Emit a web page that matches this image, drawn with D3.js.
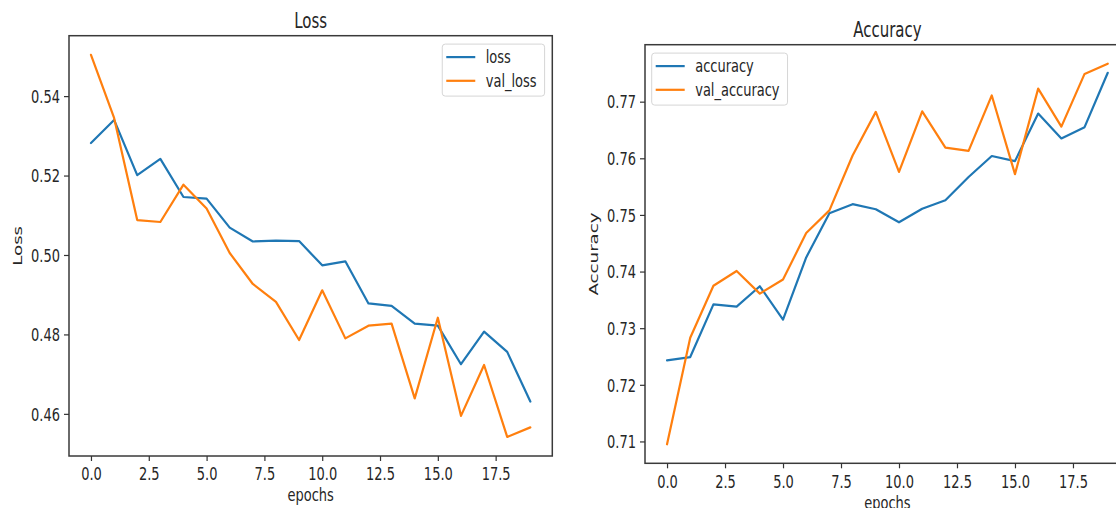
<html>
<head>
  <script src="https://d3js.org/d3.v7.min.js"></script>
  <style>
    body { margin: 0; background: #fff; }
    svg text { font-family: "DejaVu Sans", sans-serif; fill: #262626; }
    .axis .domain { display: none; }
    .axis line { stroke: #333; stroke-width: 1.2; }
    .frame { fill: none; stroke: #3a3a3a; stroke-width: 1.5; }
    .legend-box { fill: #fff; fill-opacity: 0.8; stroke: #d6d6d6; stroke-width: 1; }
  </style>
</head>
<body>
<svg id="plots" width="1116" height="508"></svg>

<script>
  // values
  const epochs = [0,1,2,3,4,5,6,7,8,9,10,11,12,13,14,15,16,17,18,19];

  const loss = [0.5282,0.5340,0.5201,0.5242,0.5146,0.5142,0.5069,0.5034,0.5036,0.5035,
                0.4974,0.4984,0.4878,0.4872,0.4827,0.4822,0.4725,0.4807,0.4756,0.4631];
  const valLoss = [0.5504,0.5345,0.5088,0.5083,0.5177,0.5117,0.5005,0.4927,0.4882,0.4786,
                   0.4911,0.4790,0.4822,0.4827,0.4639,0.4842,0.4595,0.4723,0.4542,0.4566];

  const accuracy = [0.7243,0.7249,0.7342,0.7338,0.7374,0.7315,0.7425,0.7503,0.7519,0.7510,
                    0.7487,0.7511,0.7526,0.7567,0.7604,0.7595,0.7679,0.7635,0.7655,0.7751];
  const valAccuracy = [0.7095,0.7283,0.7375,0.7401,0.7361,0.7386,0.7468,0.7508,0.7605,0.7682,
                       0.7576,0.7683,0.7619,0.7613,0.7711,0.7572,0.7723,0.7656,0.7749,0.7767];

  const xTicks = [0,2.5,5,7.5,10,12.5,15,17.5];
  const lossTicks = [0.46,0.48,0.50,0.52,0.54];
  const accTicks = [0.71,0.72,0.73,0.74,0.75,0.76,0.77];

  const blue = "#1f77b4";
  const orange = "#ff7f0e";
  const stretch = 1.4;   // the picture is squashed horizontally, text looks tall

  const svg = d3.select("svg#plots");

  function drawPanel(opts) {
    const g = svg.append("g");
    const left = opts.box[0], right = opts.box[1], top = opts.box[2], bottom = opts.box[3];

    // matplotlib style 5% margins
    const all = opts.series[0].values.concat(opts.series[1].values);
    const lo = d3.min(all), hi = d3.max(all);
    const pad = (hi - lo) * 0.05;

    const x = d3.scaleLinear().domain([-0.95, 19.95]).range([left, right]);
    const y = d3.scaleLinear().domain([lo - pad, hi + pad]).range([bottom, top]);

    // lines
    const line = d3.line().x((d, i) => x(epochs[i])).y(d => y(d));
    opts.series.forEach(s => {
      g.append("path")
        .attr("d", line(s.values))
        .attr("fill", "none")
        .attr("stroke", s.color)
        .attr("stroke-width", 2.2)
        .attr("stroke-linejoin", "round")
        .attr("stroke-linecap", "round");
    });

    // frame
    g.append("rect").attr("class", "frame")
      .attr("x", left).attr("y", top)
      .attr("width", right - left).attr("height", bottom - top);

    // axes
    const xAxis = g.append("g").attr("class", "axis")
      .attr("transform", "translate(0," + bottom + ")")
      .call(d3.axisBottom(x).tickValues(xTicks).tickSize(5).tickFormat(d3.format(".1f")));
    xAxis.selectAll("text")
      .attr("y", null).attr("dy", null)
      .attr("dominant-baseline", "central")
      .attr("font-size", 13)
      .attr("transform", "translate(0,18) scale(1," + stretch + ")");

    const yAxis = g.append("g").attr("class", "axis")
      .attr("transform", "translate(" + left + ",0)")
      .call(d3.axisLeft(y).tickValues(opts.yTicks).tickSize(5).tickFormat(d3.format(".2f")));
    yAxis.selectAll("text")
      .attr("x", null).attr("dy", null)
      .attr("dominant-baseline", "central")
      .attr("font-size", 13)
      .attr("transform", "translate(-9,0) scale(1," + stretch + ")");

    // titles and labels
    g.append("text")
      .attr("text-anchor", "middle").attr("dominant-baseline", "central")
      .attr("font-size", 15)
      .attr("transform", "translate(" + ((left + right) / 2) + "," + (top - 15) + ") scale(1," + stretch + ")")
      .text(opts.title);

    g.append("text")
      .attr("text-anchor", "middle").attr("dominant-baseline", "central")
      .attr("font-size", 13)
      .attr("transform", "translate(" + ((left + right) / 2) + "," + (bottom + 39) + ") scale(1," + stretch + ")")
      .text("epochs");

    g.append("text")
      .attr("text-anchor", "middle").attr("dominant-baseline", "central")
      .attr("font-size", 13)
      .attr("transform", "translate(" + (left - 52) + "," + ((top + bottom) / 2) + ") rotate(-90) scale(" + stretch + ",1)")
      .text(opts.yLabel);

    // legend
    const leg = g.append("g");
    const box = leg.append("rect").attr("class", "legend-box").attr("rx", 3);
    let maxW = 0;
    opts.series.forEach((s, i) => {
      const ly = 13 + i * 23.7;
      leg.append("line")
        .attr("x1", 4).attr("x2", 33).attr("y1", ly).attr("y2", ly)
        .attr("stroke", s.color).attr("stroke-width", 2.2);
      const t = leg.append("text")
        .attr("dominant-baseline", "central")
        .attr("font-size", 13)
        .attr("transform", "translate(43.5," + ly + ") scale(1," + stretch + ")")
        .text(s.name);
      maxW = Math.max(maxW, t.node().getComputedTextLength());
    });
    const boxW = 43.5 + maxW + 8;
    box.attr("x", 0).attr("y", 0).attr("width", boxW).attr("height", 52);
    const lx = opts.legendRight ? right - 7.7 - boxW : left + 6.7;
    leg.attr("transform", "translate(" + lx + "," + (top + 8.4) + ")");
  }

  drawPanel({
    box: [69, 552.3, 35.7, 456],
    title: "Loss",
    yLabel: "Loss",
    yTicks: lossTicks,
    legendRight: true,
    series: [
      {name: "loss", values: loss, color: blue},
      {name: "val_loss", values: valLoss, color: orange}
    ]
  });

  drawPanel({
    box: [645, 1129.8, 44.7, 463.3],
    title: "Accuracy",
    yLabel: "Accuracy",
    yTicks: accTicks,
    legendRight: false,
    series: [
      {name: "accuracy", values: accuracy, color: blue},
      {name: "val_accuracy", values: valAccuracy, color: orange}
    ]
  });
</script>
</body>
</html>
